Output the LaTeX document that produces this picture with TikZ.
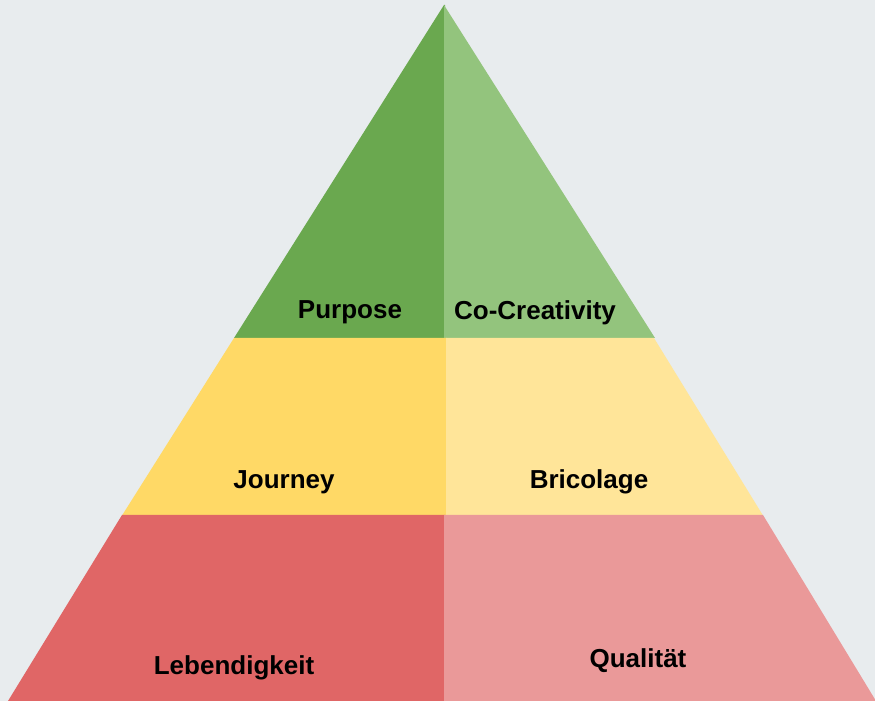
\documentclass[tikz,border=0pt]{standalone}
\usepackage{fontspec}
\setmainfont{Liberation Sans}
\usepackage{xcolor}
\usetikzlibrary{positioning}

\definecolor{bggray}{HTML}{E8ECEE}
\definecolor{greendark}{HTML}{6AA84F}
\definecolor{greenlight}{HTML}{93C47D}
\definecolor{yellowdark}{HTML}{FFD966}
\definecolor{yellowlight}{HTML}{FFE599}
\definecolor{reddark}{HTML}{E06666}
\definecolor{redlight}{HTML}{EA9999}

\tikzset{
    tierlabel/.style={font=\fontsize{13}{15}\selectfont\bfseries, anchor=base, inner sep=0pt}
}

\begin{document}
\begin{tikzpicture}[x=0.5pt, y=-0.5pt]
    % background
    \fill [bggray] (0, 0) rectangle (875, 701);
    \useasboundingbox (0, 0) rectangle (875, 701);

    % top tier
    \fill [greendark] (444, 5) -- (234, 338) -- (445, 338) -- (445, 5) -- cycle;
    \fill [greenlight] (444, 5) -- (655, 338) -- (444, 338) -- cycle;
    \node [tierlabel] (purpose) at (350, 319) {Purpose};
    \node [tierlabel] (cocreativity) at (535, 320) {Co-Creativity};

    % middle tier
    \fill [yellowdark] (234, 338) -- (122, 515.5) -- (447, 515.5) -- (447, 338) -- cycle;
    \fill [yellowlight] (446, 338) -- (654, 338) -- (763, 515.5) -- (446, 515.5) -- cycle;
    \node [tierlabel] (journey) at (284, 489) {Journey};
    \node [tierlabel] (bricolage) at (589, 489) {Bricolage};

    % bottom tier
    \fill [reddark] (122, 515) -- (8, 701) -- (445, 701) -- (445, 515) -- cycle;
    \fill [redlight] (444, 515) -- (763, 515) -- (876, 701) -- (444, 701) -- cycle;
    \node [tierlabel] (lebendigkeit) at (234, 675) {Lebendigkeit};
    \node [tierlabel] (qualitaet) at (638, 668) {Qualität};
\end{tikzpicture}
\end{document}
